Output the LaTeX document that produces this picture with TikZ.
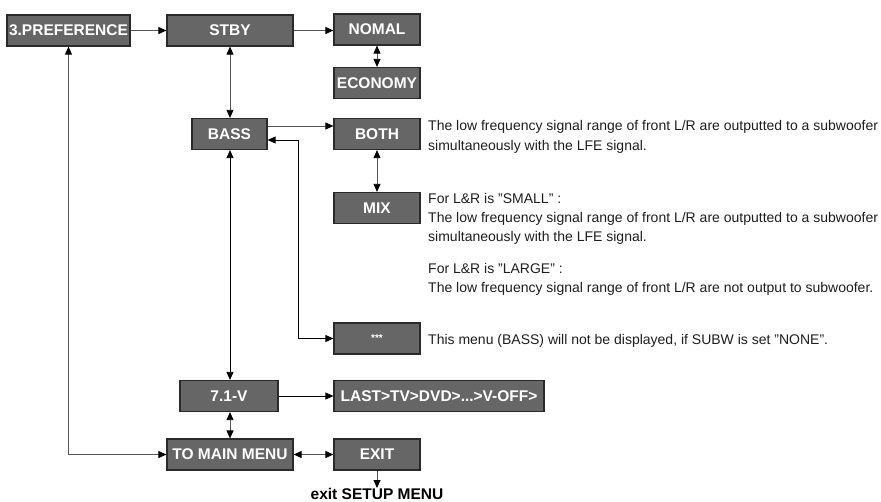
\documentclass[tikz,border=0pt]{standalone}
\usepackage{fontspec}
\setmainfont{Liberation Sans}
\usetikzlibrary{arrows.meta}
\definecolor{boxfill}{HTML}{666666}
\definecolor{boxline}{HTML}{2A2A2A}
\definecolor{wirec}{HTML}{555555}
\definecolor{notec}{HTML}{1E1E1E}
\begin{document}
\begin{tikzpicture}[x=1pt,y=-1pt,
  box/.style={draw=boxline, line width=1.2pt, fill=boxfill, text=white,
    font=\fontsize{15.5}{15.5}\selectfont\bfseries, minimum height=31pt, inner sep=0pt},
  wire/.style={draw=wirec, line width=0.8pt},
  onetip/.style={-{Triangle[length=8pt,width=7pt,color=black]}},
  twotip/.style={{Triangle[length=8pt,width=7pt,color=black]}-{Triangle[length=8pt,width=7pt,color=black]}},
  note/.style={anchor=base west, inner sep=0pt, text=notec, font=\fontsize{14}{14}\selectfont}
]
\useasboundingbox (0,0) rectangle (881,501);

% boxes
\node[box, minimum width=123pt] (pref) at (68.5,30.5) {3.PREFERENCE};
\node[box, minimum width=126pt] (stby) at (230,30.5) {STBY};
\node[box, minimum width=86pt] (nomal) at (377,29.5) {NOMAL};
\node[box, minimum width=86pt] (econ) at (377,83) {ECONOMY};
\node[box, minimum width=75pt] (bass) at (229.5,134) {BASS};
\node[box, minimum width=86pt] (both) at (377,134) {BOTH};
\node[box, minimum width=86pt] (mix) at (377,208) {MIX};
\node[box, minimum width=86pt, font=\fontsize{10}{10}\selectfont\bfseries] (star) at (377,338.5) {***};
\node[box, minimum width=98pt] (v71) at (229,396) {7.1-V};
\node[box, minimum width=210pt] (last) at (439,396) {LAST>TV>DVD>...>V-OFF>};
\node[box, minimum width=126pt] (tomain) at (230,454.5) {TO MAIN MENU};
\node[box, minimum width=86pt] (exit) at (377,454.5) {EXIT};
\node[inner sep=0pt, font=\fontsize{15.5}{15.5}\selectfont\bfseries, anchor=north] (exitlbl) at (377,488) {exit SETUP MENU};

% connectors
\draw[wire, onetip] (pref.east) -- (stby.west);
\draw[wire, onetip] (stby.east) -- (stby.east -| nomal.west);
\draw[wire, twotip] (nomal.south) -- (econ.north);
\draw[wire, twotip] (stby.south) -- (stby.south |- bass.north);
\draw[wire, onetip] ([yshift=8pt]bass.east) -- ([yshift=8pt]bass.east -| both.west);
\coordinate (turn) at (298,338.5);
\draw[wire, draw=black, twotip] (star.west) -- (turn) |- ([yshift=-6pt]bass.east);
\draw[wire, twotip] (both.south) -- (mix.north);
\draw[wire, draw=black, twotip] (stby.south |- bass.south) -- (stby.south |- v71.north);
\draw[wire, draw=black, onetip] (v71.east) -- (last.west);
\draw[wire, twotip] (stby.south |- v71.south) -- (stby.south |- tomain.north);
\draw[wire, twotip] (tomain.west) -| (pref.south);
\draw[wire, twotip] (tomain.east) -- (exit.west);
\draw[wire, onetip] (exit.south) -- (exitlbl.north);

% notes
\node[note] (n1a) at (428,130) {The low frequency signal range of front L/R are outputted to a subwoofer};
\node[note] (n1b) at (428,150) {simultaneously with the LFE signal.};
\node[note] (n2a) at (428,203) {For L\&R is "SMALL" :};
\node[note] (n2b) at (428,222) {The low frequency signal range of front L/R are outputted to a subwoofer};
\node[note] (n2c) at (428,241) {simultaneously with the LFE signal.};
\node[note] (n3a) at (428,273) {For L\&R is "LARGE" :};
\node[note] (n3b) at (428,292) {The low frequency signal range of front L/R are not output to subwoofer.};
\node[note] (n4) at (428,344) {This menu (BASS) will not be displayed, if SUBW is set "NONE".};
\end{tikzpicture}
\end{document}
